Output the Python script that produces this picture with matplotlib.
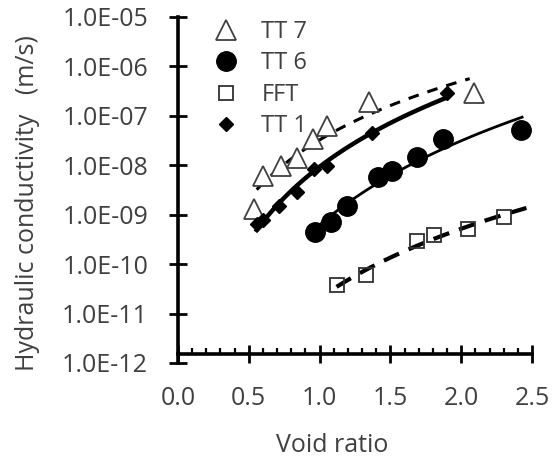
import matplotlib.pyplot as plt
import numpy as np

plt.rcParams['font.family'] = ['Open Sans', 'DejaVu Sans']

# void ratio / hydraulic conductivity (m/s)
tt7_e = [0.54, 0.60, 0.725, 0.84, 0.95, 1.05, 1.35, 2.09]
tt7_k = [1.3e-9, 6.0e-9, 9.6e-9, 1.4e-8, 3.4e-8, 6.1e-8, 1.95e-7, 2.95e-7]

tt6_e = [0.965, 1.08, 1.19, 1.41, 1.51, 1.69, 1.87, 2.42]
tt6_k = [4.5e-10, 7.2e-10, 1.5e-9, 5.8e-9, 7.6e-9, 1.45e-8, 3.4e-8, 5.1e-8]

fft_e = [1.12, 1.33, 1.69, 1.81, 2.05, 2.30]
fft_k = [3.7e-11, 5.9e-11, 3.0e-10, 3.9e-10, 5.2e-10, 9.1e-10]

tt1_e = [0.56, 0.60, 0.71, 0.84, 0.96, 1.05, 1.37, 1.90]
tt1_k = [6.5e-10, 8.0e-10, 1.5e-9, 2.9e-9, 8.3e-9, 9.6e-9, 4.4e-8, 2.9e-7]

# power trendline ranges (e from, e to)
tt7_fit = [0.556, 2.06]
tt6_fit = [0.965, 2.43]
fft_fit = [1.12, 2.5]
tt1_fit = [0.556, 1.90]


def power_fit(e, k, rng):
    b, a = np.polyfit(np.log10(e), np.log10(k), 1)
    x = np.linspace(rng[0], rng[1], 100)
    return x, 10 ** (a + b * np.log10(x))


fig = plt.figure(figsize=(5.52, 4.61), dpi=100)
ax = fig.add_axes([178 / 552, 1 - 363 / 461, 354 / 552, 346 / 461])

x, y = power_fit(tt7_e, tt7_k, tt7_fit)
ax.plot(x, y, color='black', lw=2.2, dashes=(3.5, 3))
x, y = power_fit(tt6_e, tt6_k, tt6_fit)
ax.plot(x, y, color='black', lw=2.0)
x, y = power_fit(fft_e, fft_k, fft_fit)
ax.plot(x, y, color='black', lw=3.0, dashes=(4, 2.5))
x, y = power_fit(tt1_e, tt1_k, tt1_fit)
ax.plot(x, y, color='black', lw=3.2)

ax.plot(tt7_e, tt7_k, '^', ms=14, mfc='white', mec='#404040', mew=1.3, ls='none', label='TT 7')
ax.plot(tt6_e, tt6_k, 'o', ms=14, color='black', ls='none', label='TT 6')
ax.plot(fft_e, fft_k, 's', ms=10.5, mfc='none', mec='#303030', mew=1.3, ls='none', label='FFT')
ax.plot(tt1_e, tt1_k, 'D', ms=7.5, color='black', ls='none', label='TT 1')

ax.set_yscale('log')
ax.set_xlim(0, 2.5)
ax.set_ylim(1e-12, 1e-5)
ax.set_xticks(np.arange(0, 2.51, 0.5))
ax.set_xticks(np.arange(0, 2.51, 0.1), minor=True)
ax.set_xticklabels(['%.1f' % v for v in np.arange(0, 2.51, 0.5)])
ax.set_yticks([10.0 ** p for p in range(-12, -4)])
ax.set_yticklabels(['1.0E-%02d' % p for p in range(12, 4, -1)])

for s in ['top', 'right']:
    ax.spines[s].set_visible(False)
ax.spines['left'].set_linewidth(2.6)
ax.spines['bottom'].set_linewidth(2.6)
ax.spines['bottom'].set_position(('data', 1.5e-12))

ax.tick_params(which='major', direction='inout', length=13, width=2.0,
               labelsize=18, labelcolor='#404040')
ax.tick_params(axis='y', which='major', pad=15)
ax.tick_params(axis='x', which='major', pad=16)
ax.tick_params(which='minor', direction='in', length=4, width=1.6)

ax.set_xlabel('Void ratio', fontsize=18, color='#404040')
ax.xaxis.set_label_coords((332 - 178) / 354, (363 - 433) / 346)
ax.set_ylabel('Hydraulic conductivity   (m/s)', fontsize=18, color='#404040')
ax.yaxis.set_label_coords((40 - 178) / 354, (363 - 203) / 346)

ax.legend(loc='upper left', bbox_to_anchor=(200 / 552, 1 - 8 / 461),
          bbox_transform=fig.transFigure, frameon=False, fontsize=17,
          labelcolor='#404040', handletextpad=0.9, labelspacing=0.32,
          handlelength=1.2, borderpad=0)

fig.savefig('out.png', dpi=100)
